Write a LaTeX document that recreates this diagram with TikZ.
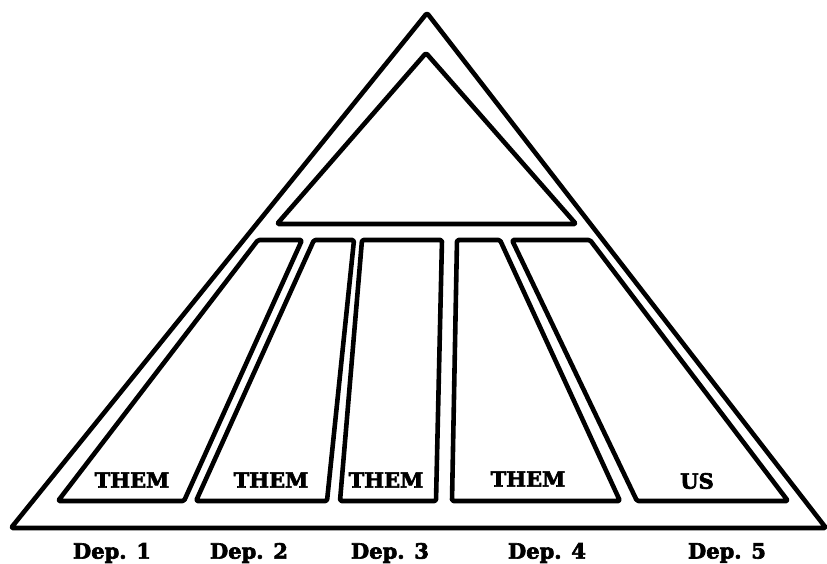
\documentclass[tikz,border=0pt]{standalone}
\usepackage{fontspec}
\setmainfont{DejaVu Serif}[BoldFeatures={FakeBold=3}]
\tikzset{
  frame/.style={line width=4.6pt, line join=round, rounded corners=1.5pt},
  tag/.style={font=\bfseries\fontsize{21}{25}\selectfont, inner sep=0pt}
}
\begin{document}
\begin{tikzpicture}[x=1pt,y=-1pt]
\useasboundingbox (0,0) rectangle (827,563);

% outer pyramid and top
\draw[frame] (11,528) -- (427,13) -- (826,528) -- cycle;
\draw[frame] (277,224) -- (426,53) -- (576,224) -- cycle;

% departments
\draw[frame] (58,501) -- (258,240) -- (302,240) -- (184,501) -- cycle;
\draw[frame] (196,501) -- (314,240) -- (354,240) -- (327,501) -- cycle;
\draw[frame] (340,501) -- (362,240) -- (442,240) -- (436,501) -- cycle;
\draw[frame] (452,501) -- (457,240) -- (500,240) -- (620,501) -- cycle;
\draw[frame] (637,501) -- (512,240) -- (590,240) -- (788,501) -- cycle;

\node[tag] (them1) at (132,480) {THEM};
\node[tag] (them2) at (271,480) {THEM};
\node[tag] (them3) at (386,480) {THEM};
\node[tag] (them4) at (528,479) {THEM};
\node[tag] (us) at (697,481) {US};

\node[tag] (dep1) at (112,553) {Dep. 1};
\node[tag] (dep2) at (249,553) {Dep. 2};
\node[tag] (dep3) at (390,553) {Dep. 3};
\node[tag] (dep4) at (547,553) {Dep. 4};
\node[tag] (dep5) at (727,553) {Dep. 5};
\end{tikzpicture}
\end{document}
